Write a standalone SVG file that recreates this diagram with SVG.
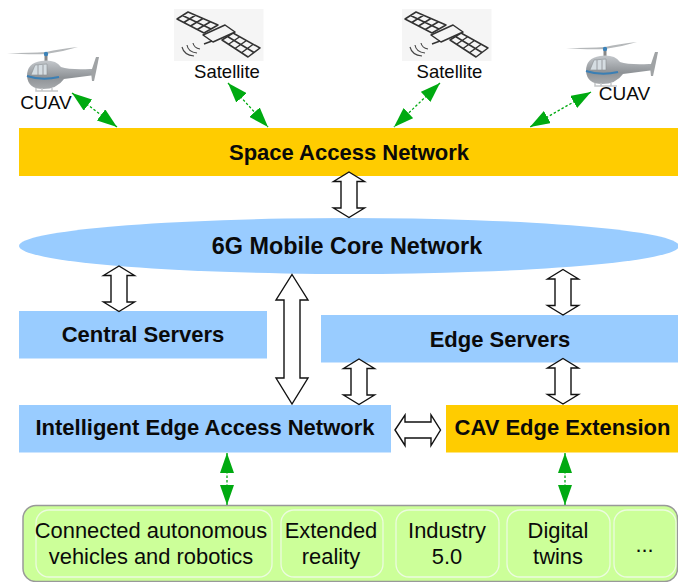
<svg xmlns="http://www.w3.org/2000/svg" width="678" height="582" viewBox="0 0 678 582">
<style>
text{font-family:"Liberation Sans",Arial,sans-serif;fill:#0a0a0a;text-anchor:middle}
.b{font-weight:bold;font-size:22px}
.c{font-weight:bold;font-size:23.4px}
.n{font-size:21.9px}
.s{font-size:18.5px}
.u{font-size:19px}
.blue{fill:#99ccff}
.or{fill:#ffcc00}
.inner{fill:#ccff99;stroke:#ecfbdf;stroke-width:1.3}
.dbl{fill:#fff;stroke:#111;stroke-width:1.4;stroke-linejoin:miter}
.g{stroke:#00aa11;stroke-width:1.3;stroke-dasharray:2.5 2;fill:none;marker-start:url(#gh);marker-end:url(#gh)}
.panel{fill:none;stroke:#333;stroke-width:1.5;stroke-linejoin:round}
</style>
<defs>
<marker id="gh" viewBox="0 0 20 14" refX="20" refY="7" markerWidth="20" markerHeight="14" markerUnits="userSpaceOnUse" orient="auto-start-reverse"><path d="M0 0L20 7L0 14Z" fill="#00aa11"/></marker>
<linearGradient id="hb" x1="0" y1="0" x2="0" y2="1"><stop offset="0" stop-color="#c4c8cc"/><stop offset="0.6" stop-color="#8e9296"/><stop offset="1" stop-color="#a8abae"/></linearGradient>
<g id="heli">
<path d="M7 53Q30 55 46 54Q62 52 78 47Q60 49 46 52Q30 53 7 53Z" fill="#b5b8ba"/>
<rect x="44.500" y="53" width="3" height="9" fill="#888"/>
<circle cx="46" cy="54" r="2.200" fill="#3b82b8"/>
<path d="M27 76Q27 63 41 61Q55 59 61 67Q70 70 90 69L95 69L95 75L64 79Q57 89 43 89Q28 89 27 76Z" fill="url(#hb)"/>
<path d="M91 72L96 57L99 57L96 72L94 81L92 81Z" fill="#a0a3a5"/>
<path d="M27 76Q42 81 59 77" fill="none" stroke="#3a7fb5" stroke-width="2"/>
<path d="M31 75L35 65L47 64L47 75Z" fill="#d5dde2" stroke="#8a8e92" stroke-width="0.6"/>
<path d="M38 65V75M43 65V75" stroke="#8a8e92" stroke-width="0.8"/>
<path d="M36 88V91H58M42 88V91M52 88V91" fill="none" stroke="#c5c7c9" stroke-width="1.500"/>
</g>
<g id="sat">
<rect x="174" y="9" width="89.500" height="52" fill="#f5f5f5"/>
<path class="panel" d="M177 19L188 12L218 25L204 33Z M182.500 15.500L211 29 M183.750 22.500L195.500 15.250 M190.500 26L203 18.500 M197.250 29.500L210.500 21.750"/>
<path class="panel" d="M222 40L233 33L260 48L248 57Z M227.500 36.500L254 52.500 M228.500 44.250L239.750 36.750 M235 48.500L246.500 40.500 M241.500 52.750L253.250 44.250"/>
<path d="M203 35L225 25L235 32L213 42Z" fill="#f5f5f5" stroke="#333" stroke-width="1.500" stroke-linejoin="round"/>
<path d="M212 41L204 44" stroke="#333" stroke-width="1.500"/>
<path d="M193 43Q194 48 200 49M187 45Q188 52 197 53M182 47Q184 55 194 56" fill="none" stroke="#444" stroke-width="1.100"/>
</g>
<path id="shortV" class="dbl" d="M0 0L15.500 9.500H8V36H15.500L0 45.500L-15.500 36H-8V9.500H-15.500Z"/>
</defs>

<g id="cuav-left"><use href="#heli"/><text class="u" x="46" y="109">CUAV</text></g>
<g id="satellite-left"><use href="#sat"/><text class="s" x="227" y="78">Satellite</text></g>
<g id="satellite-right"><use href="#sat" x="228"/><text class="s" x="449.500" y="78">Satellite</text></g>
<g id="cuav-right"><use href="#heli" x="559" y="-5"/><text class="u" x="624.500" y="100">CUAV</text></g>

<g id="space-access"><rect class="or" x="19" y="128" width="659" height="48"/><text class="b" x="349" y="160">Space Access Network</text></g>
<g id="core"><ellipse class="blue" cx="349" cy="246" rx="330" ry="28"/><text class="c" x="347" y="254">6G Mobile Core Network</text></g>
<g id="central"><rect class="blue" x="19" y="311" width="248" height="47.500"/><text class="b" x="143" y="342">Central Servers</text></g>
<g id="edge"><rect class="blue" x="321" y="315" width="357" height="47.500"/><text class="b" x="500" y="347">Edge Servers</text></g>
<g id="iean"><rect class="blue" x="19" y="405" width="372" height="47.500"/><text class="b" x="205" y="435">Intelligent Edge Access Network</text></g>
<g id="cav"><rect class="or" x="446" y="405" width="232" height="47.500"/><text class="b" x="562.500" y="435">CAV Edge Extension</text></g>

<g id="apps">
<rect x="23" y="505.500" width="654.500" height="76" rx="13" fill="#ccff99" stroke="#999" stroke-width="1.500"/>
<g id="app-1"><rect class="inner" x="36" y="510" width="236" height="67" rx="13"/><text class="n" x="151" y="538">Connected autonomous</text><text class="n" x="151" y="564">vehicles and robotics</text></g>
<g id="app-2"><rect class="inner" x="281" y="510" width="102" height="67" rx="13"/><text class="n" x="331" y="538">Extended</text><text class="n" x="331" y="564">reality</text></g>
<g id="app-3"><rect class="inner" x="396" y="510" width="103" height="67" rx="13"/><text class="n" x="447" y="538">Industry</text><text class="n" x="447" y="564">5.0</text></g>
<g id="app-4"><rect class="inner" x="507" y="510" width="103" height="67" rx="13"/><text class="n" x="558" y="538">Digital</text><text class="n" x="558" y="564">twins</text></g>
<g id="app-5"><rect class="inner" x="614" y="510" width="62" height="67" rx="13"/><text class="n" x="644.500" y="552">...</text></g>
</g>

<g id="connectors">
<use href="#shortV" x="349" y="172"/>
<use href="#shortV" x="119" y="266"/>
<use href="#shortV" x="563" y="269.500"/>
<use href="#shortV" x="359" y="359"/>
<use href="#shortV" x="563" y="358.500"/>
<path class="dbl" d="M292 274.500L308 300H300V378H308L292 404L276 378H284V300H276Z"/>
<path class="dbl" d="M395 430L405 415V422H431V415L440.500 430L431 445.500V438H405V445.500Z"/>
<line class="g" x1="72" y1="93" x2="117" y2="127"/>
<line class="g" x1="228" y1="83" x2="268" y2="127"/>
<line class="g" x1="440" y1="83" x2="394" y2="127"/>
<line class="g" x1="591" y1="92" x2="530" y2="127"/>
<line class="g" x1="227" y1="453" x2="227" y2="505"/>
<line class="g" x1="565" y1="453" x2="565" y2="505"/>
</g>
</svg>
